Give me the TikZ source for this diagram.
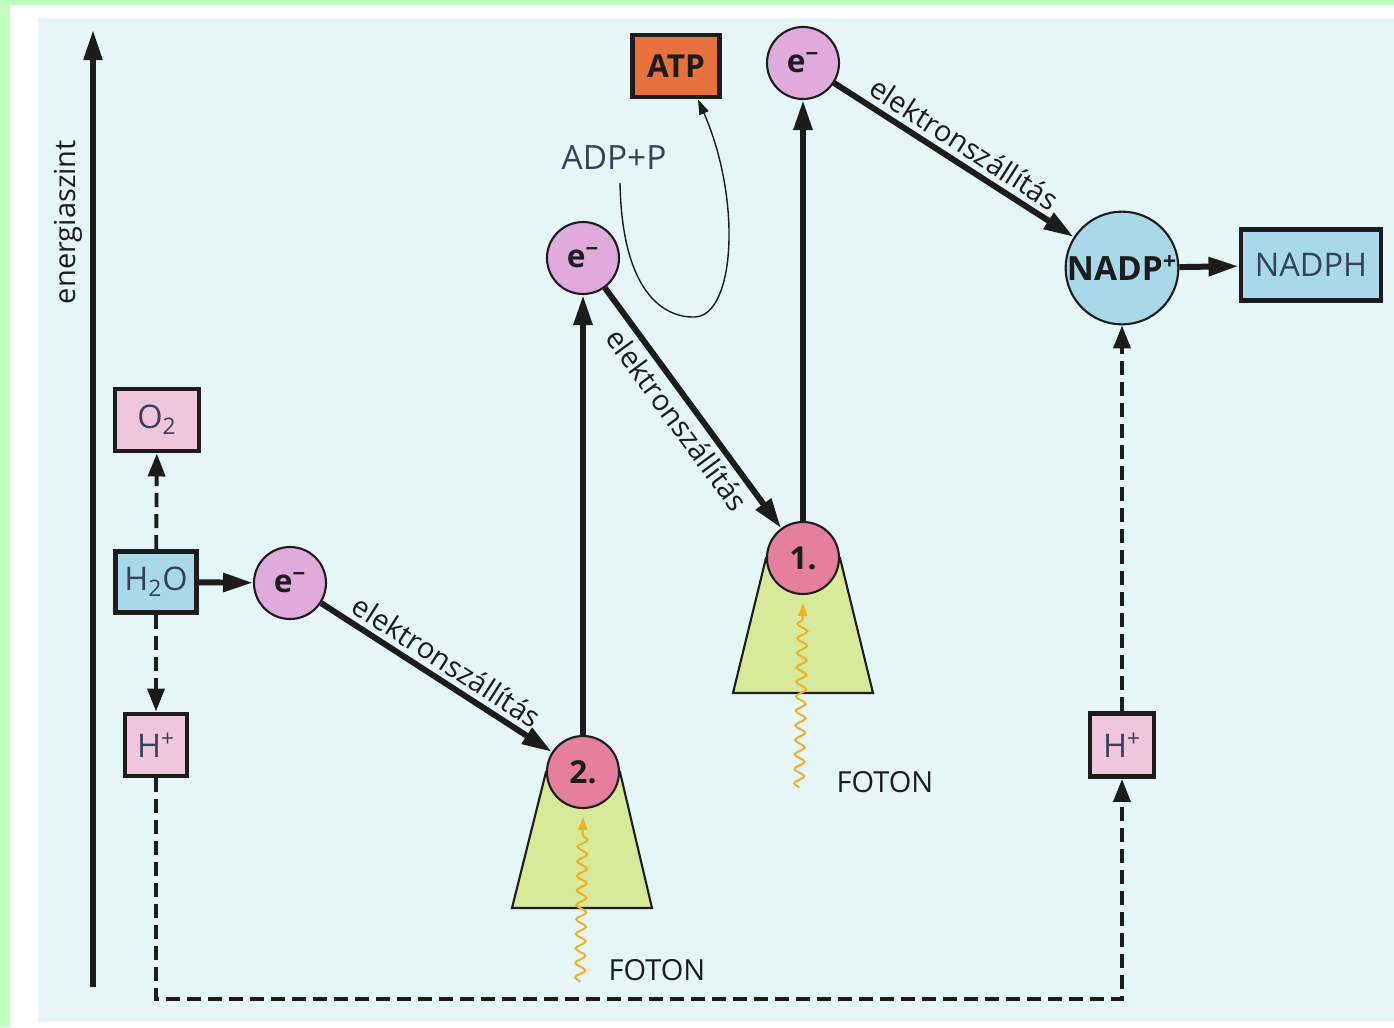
\documentclass[tikz,border=0pt]{standalone}
\usepackage{fontspec}
\setmainfont{Open Sans}
\usetikzlibrary{arrows.meta,decorations.pathmorphing,positioning}

\definecolor{framegreen}{HTML}{C0FFC0}
\definecolor{pagecyan}{HTML}{E6F5F8}
\definecolor{boxpink}{HTML}{F0C6DC}
\definecolor{boxblue}{HTML}{A8D8EA}
\definecolor{elecpink}{HTML}{E0AADC}
\definecolor{pspink}{HTML}{E67E9E}
\definecolor{atporange}{HTML}{E8703C}
\definecolor{psgreen}{HTML}{D6EA9A}
\definecolor{photonyellow}{HTML}{F0B020}
\definecolor{molgrey}{HTML}{34425A}
\definecolor{ink}{HTML}{1C1C1C}

\begin{document}
\begin{tikzpicture}[x=0.2mm,y=-0.2mm,
  lbl/.style={font=\fontsize{16.5}{18}\selectfont,text=ink,inner sep=3pt},
  box/.style={draw=ink,line width=2.8pt,inner sep=0pt,font=\fontsize{18.5}{20}\selectfont,text=molgrey},
  pinkbox/.style={box,fill=boxpink},
  bluebox/.style={box,fill=boxblue},
  elec/.style={circle,draw=ink,line width=1.2pt,fill=elecpink,minimum size=14.4mm,inner sep=0pt,font=\bfseries\fontsize{18}{20}\selectfont,text=ink},
  psys/.style={elec,fill=pspink},
  flow/.style={draw=ink,line width=3.4pt,-{Triangle[length=6mm,width=3.6mm]}},
  dashflow/.style={draw=ink,line width=2.2pt,dash pattern=on 2.8mm off 1.4mm,-{Triangle[length=4.6mm,width=3.4mm]}},
  thinflow/.style={draw=ink,line width=0.8pt,-{Triangle[length=3mm,width=2mm]}},
  photon/.style={draw=photonyellow,line width=1.1pt,decorate,decoration={snake,amplitude=1mm,segment length=2.9mm,post length=2.6mm},-{Triangle[length=2.6mm,width=1.8mm]}},
  antenna/.style={fill=psgreen,draw=ink,line width=1.2pt}]
\useasboundingbox (0,0) rectangle (1394,1027);
% page
\fill[framegreen] (0,0) rectangle (1394,1027);
\fill[white] (10,5) rectangle (1394,1027);
\fill[pagecyan] (38,18) rectangle (1394,1022);

% antenna complexes
\draw[antenna] (546,772) -- (620,772) -- (652,908) -- (512,908) -- cycle;
\draw[antenna] (766,558) -- (840,558) -- (873,693) -- (733,693) -- cycle;

% energy axis
\coordinate (axisfoot) at (93,987);
\coordinate (axistop) at (93,30);
\draw[flow,line width=3pt] (axisfoot) -- (axistop);
\node[lbl,rotate=90] (axislabel) at (68,222) {energiaszint};

% water splitting
\node[pinkbox,minimum width=16.8mm,minimum height=12.4mm] (o2) at (157,420) {O\textsubscript{2}};
\node[bluebox,minimum width=16.2mm,minimum height=12.2mm] (h2o) at (156,582) {H\textsubscript{2}O};
\node[pinkbox,minimum width=12.4mm,minimum height=12.4mm] (hleft) at (156,745) {H\textsuperscript{+}};
\node[elec] (e1) at (290,583) {e\textsuperscript{−}};

% photosystems
\node[psys] (ps2) at (583,772) {2.};
\node[elec] (e2) at (583,258) {e\textsuperscript{−}};
\node[psys] (ps1) at (803,558) {1.};
\node[elec] (e3) at (803,63) {e\textsuperscript{−}};

% products
\node[box,fill=atporange,text=ink,font=\bfseries\fontsize{18}{20}\selectfont,minimum width=17.4mm,minimum height=12.4mm] (atp) at (676,66) {ATP};
\node[lbl,text=molgrey,font=\fontsize{19}{20}\selectfont] (adp) at (614,158) {ADP+P};
\node[elec,fill=boxblue,minimum size=21.6mm,font=\bfseries\fontsize{19}{20}\selectfont] (nadp) at (1122,268) {NADP\textsuperscript{+}};
\node[bluebox,minimum width=28mm,minimum height=14.2mm] (nadph) at (1311,265) {NADPH};
\node[pinkbox,minimum width=12.8mm,minimum height=12.6mm] (hright) at (1122,745) {H\textsuperscript{+}};

% photons
\coordinate (ph2) at (580,982);
\coordinate (ph1) at (799,788);
\draw[photon] (ph2) -- ([yshift=-1.6mm]ps2.south);
\draw[photon] (ph1) -- ([yshift=-1.6mm]ps1.south);
\node[lbl] (foton2) at (657,970) {FOTON};
\node[lbl] (foton1) at (885,782) {FOTON};

% electron flow
\draw[flow] (h2o) -- (e1);
\draw[flow] (e1) -- node[lbl,sloped,above]{elektronszállítás} (ps2);
\draw[flow] (ps2) -- (e2);
\draw[flow] (e2) -- node[lbl,sloped,below]{elektronszállítás} (ps1);
\draw[flow] (ps1) -- (e3);
\draw[flow] (e3) -- node[lbl,sloped,above]{elektronszállítás} (nadp);
\draw[flow] (nadp) -- (nadph);

% ATP synthesis
\coordinate (adpfoot) at (620,183);
\draw[thinflow] (adpfoot) .. controls (622,290) and (662,318) .. (695,317)
  .. controls (735,315) and (742,200) .. ([xshift=4.4mm]atp.south);

% protons
\draw[dashflow] (h2o) -- (o2);
\draw[dashflow] (h2o) -- (hleft);
\coordinate (dashcorner) at (156,999);
\draw[dashflow] (hleft) -- (dashcorner) -| (hright);
\draw[dashflow] (hright) -- (nadp);
\end{tikzpicture}
\end{document}
